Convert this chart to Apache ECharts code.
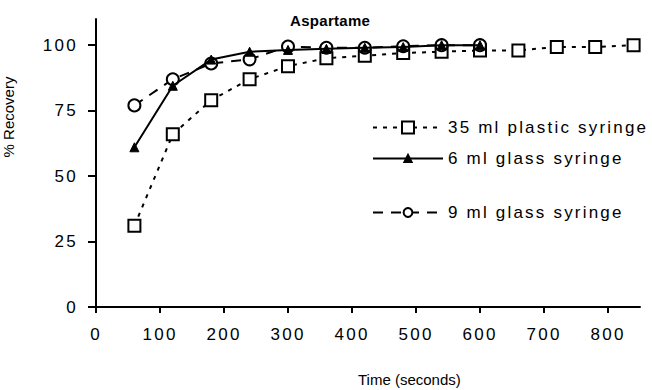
<!DOCTYPE html>
<html>
<head>
<meta charset="utf-8">
<script src="https://cdn.jsdelivr.net/npm/echarts@6/dist/echarts.min.js"></script>
<style>
html,body{margin:0;padding:0;background:#fff;}
#main{width:652px;height:390px;}
</style>
</head>
<body>
<div id="main"></div>
<script>
const titleText = 'Aspartame';
const xName = 'Time (seconds)';
const yName = '% Recovery';
const xTicks = [0, 100, 200, 300, 400, 500, 600, 700, 800];
const yTicks = [0, 25, 50, 75, 100];

const seriesNames = ['35 ml plastic syringe', '6 ml glass syringe', '9 ml glass syringe'];
const timesPlastic = [60, 120, 180, 240, 300, 360, 420, 480, 540, 600, 660, 720, 780, 840];
const plastic35 = [31, 66, 79, 87, 92, 95, 96, 97, 97.5, 98, 98, 99.3, 99.3, 100];
const timesGlass = [60, 120, 180, 240, 300, 360, 420, 480, 540, 600];
const glass6 = [61, 84.5, 94.5, 97.5, 98.2, 98.6, 99, 99.3, 100, 100];
const glass9 = [77, 87, 93, 94.6, 99.5, 99, 99, 99.6, 100, 100];

const pair = (xs, ys) => xs.map((x, i) => [x, ys[i]]);

const FONT = 'Liberation Sans, Arial, sans-serif';
const chart = echarts.init(document.getElementById('main'), null, {renderer: 'svg'});

function legendAt(name, top, h) {
  return {
    data: [name], left: 372, top: top, padding: 0, itemWidth: 70, itemHeight: h, itemGap: 0,
    textStyle: {fontFamily: FONT, fontSize: 17, color: '#000'},
    selectedMode: false
  };
}

chart.setOption({
  animation: false,
  backgroundColor: '#fff',
  title: {
    text: titleText, left: 290, top: 13, padding: 0,
    textStyle: {fontFamily: FONT, fontSize: 15, fontWeight: 'bold', color: '#000'}
  },
  legend: [
    legendAt(seriesNames[0], 119, 15),
    legendAt(seriesNames[1], 150, 9),
    legendAt(seriesNames[2], 204, 11)
  ],
  graphic: [
    {type: 'text', left: 358, top: 372, style: {text: xName, font: '15px ' + FONT, fill: '#000'}},
    {type: 'text', x: 8, y: 117, rotation: Math.PI / 2, style: {text: yName, font: '15px ' + FONT, fill: '#000', align: 'center', verticalAlign: 'middle'}}
  ],
  grid: {left: 96, right: 12, top: 19, bottom: 83, outerBoundsMode: 'none', containLabel: false},
  xAxis: {
    type: 'value', min: 0, max: 850,
    axisLine: {show: true, lineStyle: {color: '#000', width: 2}},
    axisTick: {show: true, length: 6, lineStyle: {color: '#000', width: 2}, customValues: xTicks},
    axisLabel: {customValues: xTicks, margin: 19, fontFamily: FONT, fontSize: 17, color: '#000'},
    splitLine: {show: false}
  },
  yAxis: {
    type: 'value', min: 0, max: 110,
    axisLine: {show: true, lineStyle: {color: '#000', width: 2}},
    axisTick: {show: true, length: 8, lineStyle: {color: '#000', width: 2}, customValues: yTicks},
    axisLabel: {customValues: yTicks, margin: 18, fontFamily: FONT, fontSize: 17, color: '#000'},
    splitLine: {show: false}
  },
  series: [
    {
      name: seriesNames[0], type: 'line', data: pair(timesPlastic, plastic35),
      symbol: 'rect', symbolSize: 12, z: 2,
      lineStyle: {color: '#000', width: 2, type: [4, 6]},
      itemStyle: {color: '#fff', borderColor: '#000', borderWidth: 2}
    },
    {
      name: seriesNames[1], type: 'line', data: pair(timesGlass, glass6),
      symbol: 'triangle', symbolSize: 9, z: 4,
      lineStyle: {color: '#000', width: 2, type: 'solid'},
      itemStyle: {color: '#000', borderColor: '#000', borderWidth: 1}
    },
    {
      name: seriesNames[2], type: 'line', data: pair(timesGlass, glass9),
      symbol: 'circle', symbolSize: 12, z: 3,
      lineStyle: {color: '#000', width: 2, type: [10, 8]},
      itemStyle: {color: '#fff', borderColor: '#000', borderWidth: 2}
    }
  ]
});

// widen letter spacing of the spaced-out texts, like the original
document.querySelectorAll('#main svg text').forEach(t => {
  const s = t.textContent;
  if (/^\d+$/.test(s)) t.style.letterSpacing = '2.3px';
  else if (seriesNames.includes(s)) t.style.letterSpacing = '2.2px';
  else if (s === titleText) t.style.letterSpacing = '0.3px';
});
</script>
</body>
</html>
